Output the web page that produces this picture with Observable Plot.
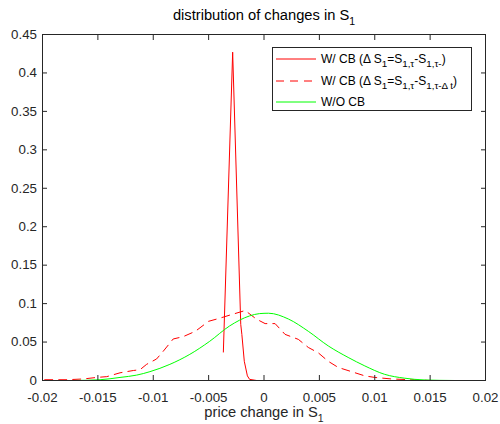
<!DOCTYPE html>
<html><head><meta charset="utf-8">
<script src="https://cdn.jsdelivr.net/npm/d3@7"></script>
<script src="https://cdn.jsdelivr.net/npm/@observablehq/plot@0.6"></script>
<style>
body{margin:0;background:#fff;}
#wrap{position:relative;width:500px;height:424px;font-family:"Liberation Sans",Arial,sans-serif;}
#legend{position:absolute;left:272px;top:47px;width:198px;height:62px;border:1px solid #262626;background:#fff;font-size:12px;color:#000;}
.row{position:absolute;left:0;height:16px;display:flex;align-items:center;white-space:nowrap;}
.row svg{margin-left:3px;margin-right:5px;}
sub{font-size:0.82em;vertical-align:-0.45em;line-height:0}
</style></head><body><div id="wrap"></div>
<script>
// ---- data ----
const titleText = "distribution of changes in S";
const xLabelText = "price change in S";

const xTicks = [-0.02, -0.015, -0.01, -0.005, 0, 0.005, 0.01, 0.015, 0.02];
const xTickLabels = ["-0.02", "-0.015", "-0.01", "-0.005", "0", "0.005", "0.01", "0.015", "0.02"];
const yTicks = [0, 0.05, 0.1, 0.15, 0.2, 0.25, 0.3, 0.35, 0.4, 0.45];
const yTickLabels = ["0", "0.05", "0.1", "0.15", "0.2", "0.25", "0.3", "0.35", "0.4", "0.45"];

// W/ CB (instantaneous) - solid red
const solidX = [-0.00367, -0.00283, -0.0021, -0.0020, -0.00178, -0.0015, -0.0013, -0.00066, 0.0001];
const solidY = [0.037, 0.427, 0.073, 0.060, 0.025, 0.006, 0.0015, 0.0, 0.0];

// W/ CB (over Δt) - dashed red
const dashX = [-0.0198, -0.0178, -0.0163, -0.0151, -0.0142, -0.013, -0.0118, -0.0112, -0.0106, -0.0097, -0.0091, -0.0082, -0.0073, -0.0062, -0.005, -0.004, -0.0031, -0.0017, -0.0007, 0.0001, 0.001, 0.0019, 0.0031, 0.004, 0.0049, 0.0058, 0.0067, 0.0078, 0.0091, 0.01, 0.0115, 0.0133, 0.015];
const dashY = [0.001, 0.001, 0.002, 0.004, 0.005, 0.010, 0.013, 0.014, 0.021, 0.028, 0.038, 0.054, 0.057, 0.064, 0.077, 0.081, 0.085, 0.091, 0.080, 0.074, 0.074, 0.060, 0.0535, 0.043, 0.036, 0.025, 0.017, 0.012, 0.006, 0.004, 0.002, 0.001, 0.0];

// W/O CB - green
const greenX = [-0.0172, -0.0148, -0.013, -0.0115, -0.0103, -0.0085, -0.0067, -0.0049, -0.0031, -0.0013, -0.0004, 0.0004, 0.0022, 0.004, 0.0058, 0.0076, 0.0091, 0.0109, 0.0127, 0.0145, 0.0172];
const greenY = [0.0, 0.001, 0.004, 0.007, 0.0115, 0.021, 0.034, 0.051, 0.071, 0.084, 0.087, 0.0875, 0.080, 0.064, 0.045, 0.030, 0.019, 0.008, 0.003, 0.0007, 0.0];

const legendLabels = [
  "W/ CB (Δ S<sub>1</sub>=S<sub>1,τ</sub>-S<sub>1,τ-</sub>)",
  "W/ CB (Δ S<sub>1</sub>=S<sub>1,τ</sub>-S<sub>1,τ-Δ t</sub>)",
  "W/O CB"
];
const legendColors = ["#ff0000", "#ff0000", "#00ff00"];
const legendDash = [null, "8,6", null];

// ---- build ----
const zip = (xs, ys) => xs.map((x, i) => ({x, y: ys[i]}));
const solid = zip(solidX, solidY);
const dashed = zip(dashX, dashY);
const green = zip(greenX, greenY);
const axisColor = "#262626";

const chart = Plot.plot({
  width: 500, height: 424,
  marginLeft: 42, marginRight: 15, marginTop: 34, marginBottom: 44,
  style: {fontFamily: "'Liberation Sans', Arial, sans-serif", fontSize: "13.3px", color: axisColor, background: "white", overflow: "visible"},
  x: {domain: [-0.02, 0.02]},
  y: {domain: [0, 0.45]},
  marks: [
    Plot.line(solid, {x: "x", y: "y", stroke: "#ff0000", strokeWidth: 1}),
    Plot.line(dashed, {x: "x", y: "y", stroke: "#ff0000", strokeWidth: 1, strokeDasharray: "8,6"}),
    Plot.line(green, {x: "x", y: "y", stroke: "#00ff00", strokeWidth: 1, curve: "monotone-x"}),
    Plot.frame({stroke: axisColor, strokeWidth: 1}),
    Plot.axisX({anchor: "bottom", ticks: xTicks, tickFormat: d => xTickLabels[xTicks.indexOf(d)], tickSize: -5, tickPadding: 17, label: null, stroke: axisColor}),
    Plot.axisX({anchor: "top", ticks: xTicks, tickFormat: () => "", tickSize: -5, label: null, stroke: axisColor}),
    Plot.axisY({anchor: "left", ticks: yTicks, tickFormat: d => yTickLabels[yTicks.indexOf(d)], tickSize: -5, tickPadding: 10.5, label: null, stroke: axisColor}),
    Plot.axisY({anchor: "right", ticks: yTicks, tickFormat: () => "", tickSize: -5, label: null, stroke: axisColor}),
    Plot.text([titleText], {text: d => d, frameAnchor: "top", dy: -15, lineAnchor: "bottom", fontSize: 14.7, fill: "#000"}),
    Plot.text([xLabelText], {text: d => d, frameAnchor: "bottom", dy: 36, lineAnchor: "bottom", fontSize: 14.7, fill: axisColor})
  ]
});

// subscripts "1" on title and x label
chart.querySelectorAll("text").forEach(t => {
  if (t.textContent === titleText || t.textContent === xLabelText) {
    const ts = document.createElementNS("http://www.w3.org/2000/svg", "tspan");
    ts.setAttribute("dy", "5.5");
    ts.setAttribute("font-size", "10.5");
    ts.textContent = "1";
    t.appendChild(ts);
  }
});

const wrap = document.getElementById("wrap");
wrap.appendChild(chart);

// legend
const leg = document.createElement("div");
leg.id = "legend";
const rowCenters = [12, 34, 55];
legendLabels.forEach((lab, i) => {
  const r = document.createElement("div");
  r.className = "row";
  r.style.top = (rowCenters[i] - 8 - 1) + "px";
  r.innerHTML = `<svg width="40" height="4"><line x1="0" x2="40" y1="2" y2="2" stroke="${legendColors[i]}" stroke-width="1" ${legendDash[i] ? `stroke-dasharray="${legendDash[i]}"` : ""}/></svg><span>${lab}</span>`;
  leg.appendChild(r);
});
wrap.appendChild(leg);
</script>
</body></html>
